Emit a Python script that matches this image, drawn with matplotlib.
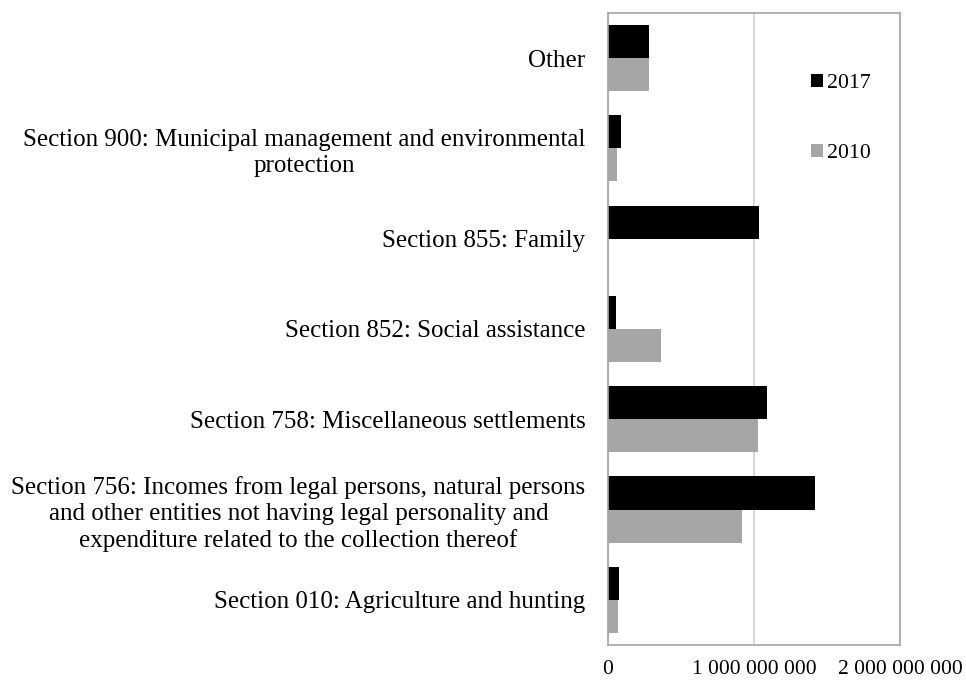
import numpy as np
import matplotlib.pyplot as plt

plt.rcParams['font.family'] = ['Liberation Serif', 'DejaVu Serif']

categories = [
    "Other",
    "Section 900: Municipal management and environmental\nprotection",
    "Section 855: Family",
    "Section 852: Social assistance",
    "Section 758: Miscellaneous settlements",
    "Section 756: Incomes from legal persons, natural persons\nand other entities not having legal personality and\nexpenditure related to the collection thereof",
    "Section 010: Agriculture and hunting",
]
values_2017 = [284e6, 92e6, 1035e6, 58e6, 1090e6, 1420e6, 79e6]
values_2010 = [284e6, 63e6, 0, 362e6, 1030e6, 920e6, 74e6]
xticks = [0, 1e9, 2e9]
xtick_labels = ["0", "1 000 000 000", "2 000 000 000"]

fig = plt.figure(figsize=(9.66, 6.8), dpi=100)
ax = fig.add_axes([0.629, 0.0515, 0.303, 0.9295])

y = np.arange(len(categories))
h = 0.367
ax.barh(y - h / 2, values_2017, height=h, color='black', label='2017')
ax.barh(y + h / 2, values_2010, height=h, color='#a6a6a6', label='2010')

ax.set_ylim(len(categories) - 0.5, -0.5)
ax.set_xlim(0, 2e9)
ax.set_yticks(y)
ax.set_yticklabels(categories, fontsize=18, ha='right',
                   multialignment='center', linespacing=1.22)
ax.set_xticks(xticks)
ax.set_xticklabels(xtick_labels, fontsize=15.5)
ax.tick_params(axis='both', length=0)
ax.tick_params(axis='y', pad=16)
ax.tick_params(axis='x', pad=11)

ax.grid(axis='x', color='#d9d9d9', linewidth=1.5)
ax.set_axisbelow(True)
for s in ax.spines.values():
    s.set_color('#a6a6a6')
    s.set_linewidth(1.2)

ax.legend(loc='upper left', bbox_to_anchor=(0.628, 0.935), frameon=False,
          fontsize=15.7, handlelength=0.55, handleheight=0.55,
          handletextpad=0.2, labelspacing=2.32)

fig.savefig('out.png', dpi=100)
